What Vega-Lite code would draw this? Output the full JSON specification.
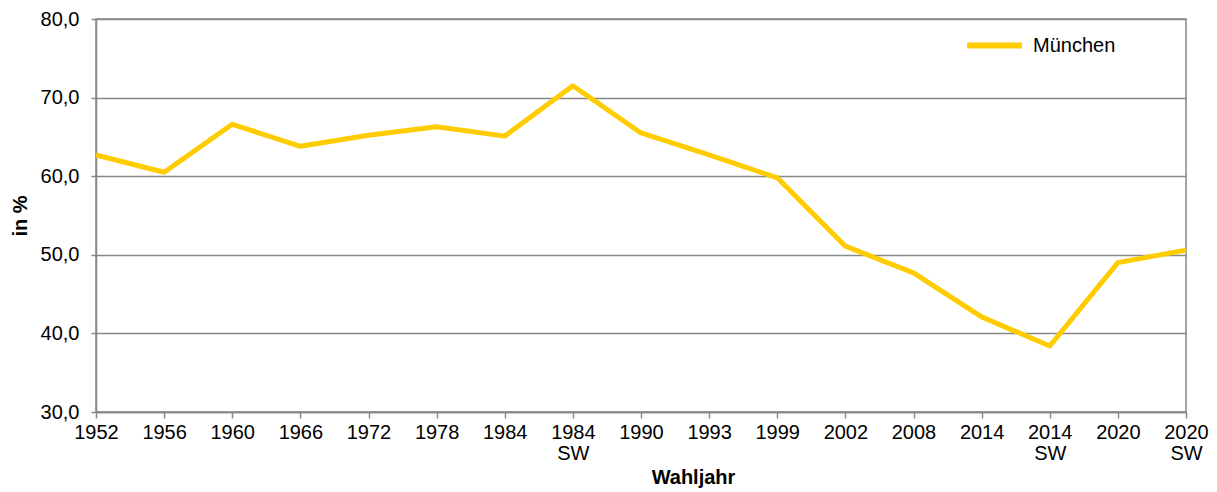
{
  "$schema": "https://vega.github.io/schema/vega-lite/v6.json",
  "width": 1090,
  "height": 393,
  "autosize": {"type": "none"},
  "padding": {"left": 96, "top": 19, "right": 31, "bottom": 80},
  "background": "white",
  "config": {
    "font": "Liberation Sans",
    "view": {"stroke": "#888888", "strokeWidth": 1.5}
  },
  "data": {
    "values": [
      {"Wahl": "1952", "Wert": 62.7, "Serie": "München"},
      {"Wahl": "1956", "Wert": 60.5, "Serie": "München"},
      {"Wahl": "1960", "Wert": 66.6, "Serie": "München"},
      {"Wahl": "1966", "Wert": 63.8, "Serie": "München"},
      {"Wahl": "1972", "Wert": 65.2, "Serie": "München"},
      {"Wahl": "1978", "Wert": 66.3, "Serie": "München"},
      {"Wahl": "1984", "Wert": 65.1, "Serie": "München"},
      {"Wahl": "1984 SW", "Wert": 71.5, "Serie": "München"},
      {"Wahl": "1990", "Wert": 65.5, "Serie": "München"},
      {"Wahl": "1993", "Wert": 62.7, "Serie": "München"},
      {"Wahl": "1999", "Wert": 59.8, "Serie": "München"},
      {"Wahl": "2002", "Wert": 51.1, "Serie": "München"},
      {"Wahl": "2008", "Wert": 47.7, "Serie": "München"},
      {"Wahl": "2014", "Wert": 42.1, "Serie": "München"},
      {"Wahl": "2014 SW", "Wert": 38.4, "Serie": "München"},
      {"Wahl": "2020", "Wert": 49.0, "Serie": "München"},
      {"Wahl": "2020 SW", "Wert": 50.6, "Serie": "München"}
    ]
  },
  "mark": {"type": "line", "strokeWidth": 5, "strokeJoin": "round", "strokeCap": "butt"},
  "encoding": {
    "x": {
      "field": "Wahl",
      "type": "ordinal",
      "sort": null,
      "scale": {"type": "point", "padding": 0},
      "axis": {
        "title": "Wahljahr",
        "titleFont": "Liberation Sans",
        "titleFontSize": 20,
        "titleFontWeight": "bold",
        "titleColor": "#000000",
        "titleX": 597,
        "titleY": 71,
        "titleBaseline": "alphabetic",
        "labelAngle": 0,
        "labelFontSize": 20,
        "labelColor": "#000000",
        "labelPadding": 4,
        "labelLineHeight": 21,
        "labelExpr": "split(datum.label, ' ')",
        "domainColor": "#888888",
        "domainWidth": 1.5,
        "tickColor": "#888888",
        "tickWidth": 1.5,
        "tickSize": 6,
        "grid": false,
        "labelOverlap": false
      }
    },
    "y": {
      "field": "Wert",
      "type": "quantitative",
      "scale": {"domain": [30, 80], "nice": false, "zero": false},
      "axis": {
        "title": "in %",
        "titleFont": "Liberation Sans",
        "titleFontSize": 20,
        "titleFontWeight": "bold",
        "titleColor": "#000000",
        "titlePadding": 10,
        "values": [30, 40, 50, 60, 70, 80],
        "labelExpr": "replace(format(datum.value, '.1f'), '.', ',')",
        "labelFontSize": 20,
        "labelColor": "#000000",
        "labelPadding": 12,
        "domainColor": "#888888",
        "domainWidth": 1.5,
        "tickColor": "#888888",
        "tickWidth": 1.5,
        "tickSize": 5,
        "grid": true,
        "gridColor": "#888888",
        "gridWidth": 1.5
      }
    },
    "color": {
      "field": "Serie",
      "type": "nominal",
      "scale": {"range": ["#FFCC00"]},
      "legend": {
        "title": null,
        "orient": "none",
        "legendX": 868,
        "legendY": -4,
        "symbolType": "stroke",
        "symbolStrokeWidth": 6,
        "symbolSize": 3000,
        "labelFontSize": 20,
        "labelColor": "#000000",
        "labelOffset": 8
      }
    }
  }
}
